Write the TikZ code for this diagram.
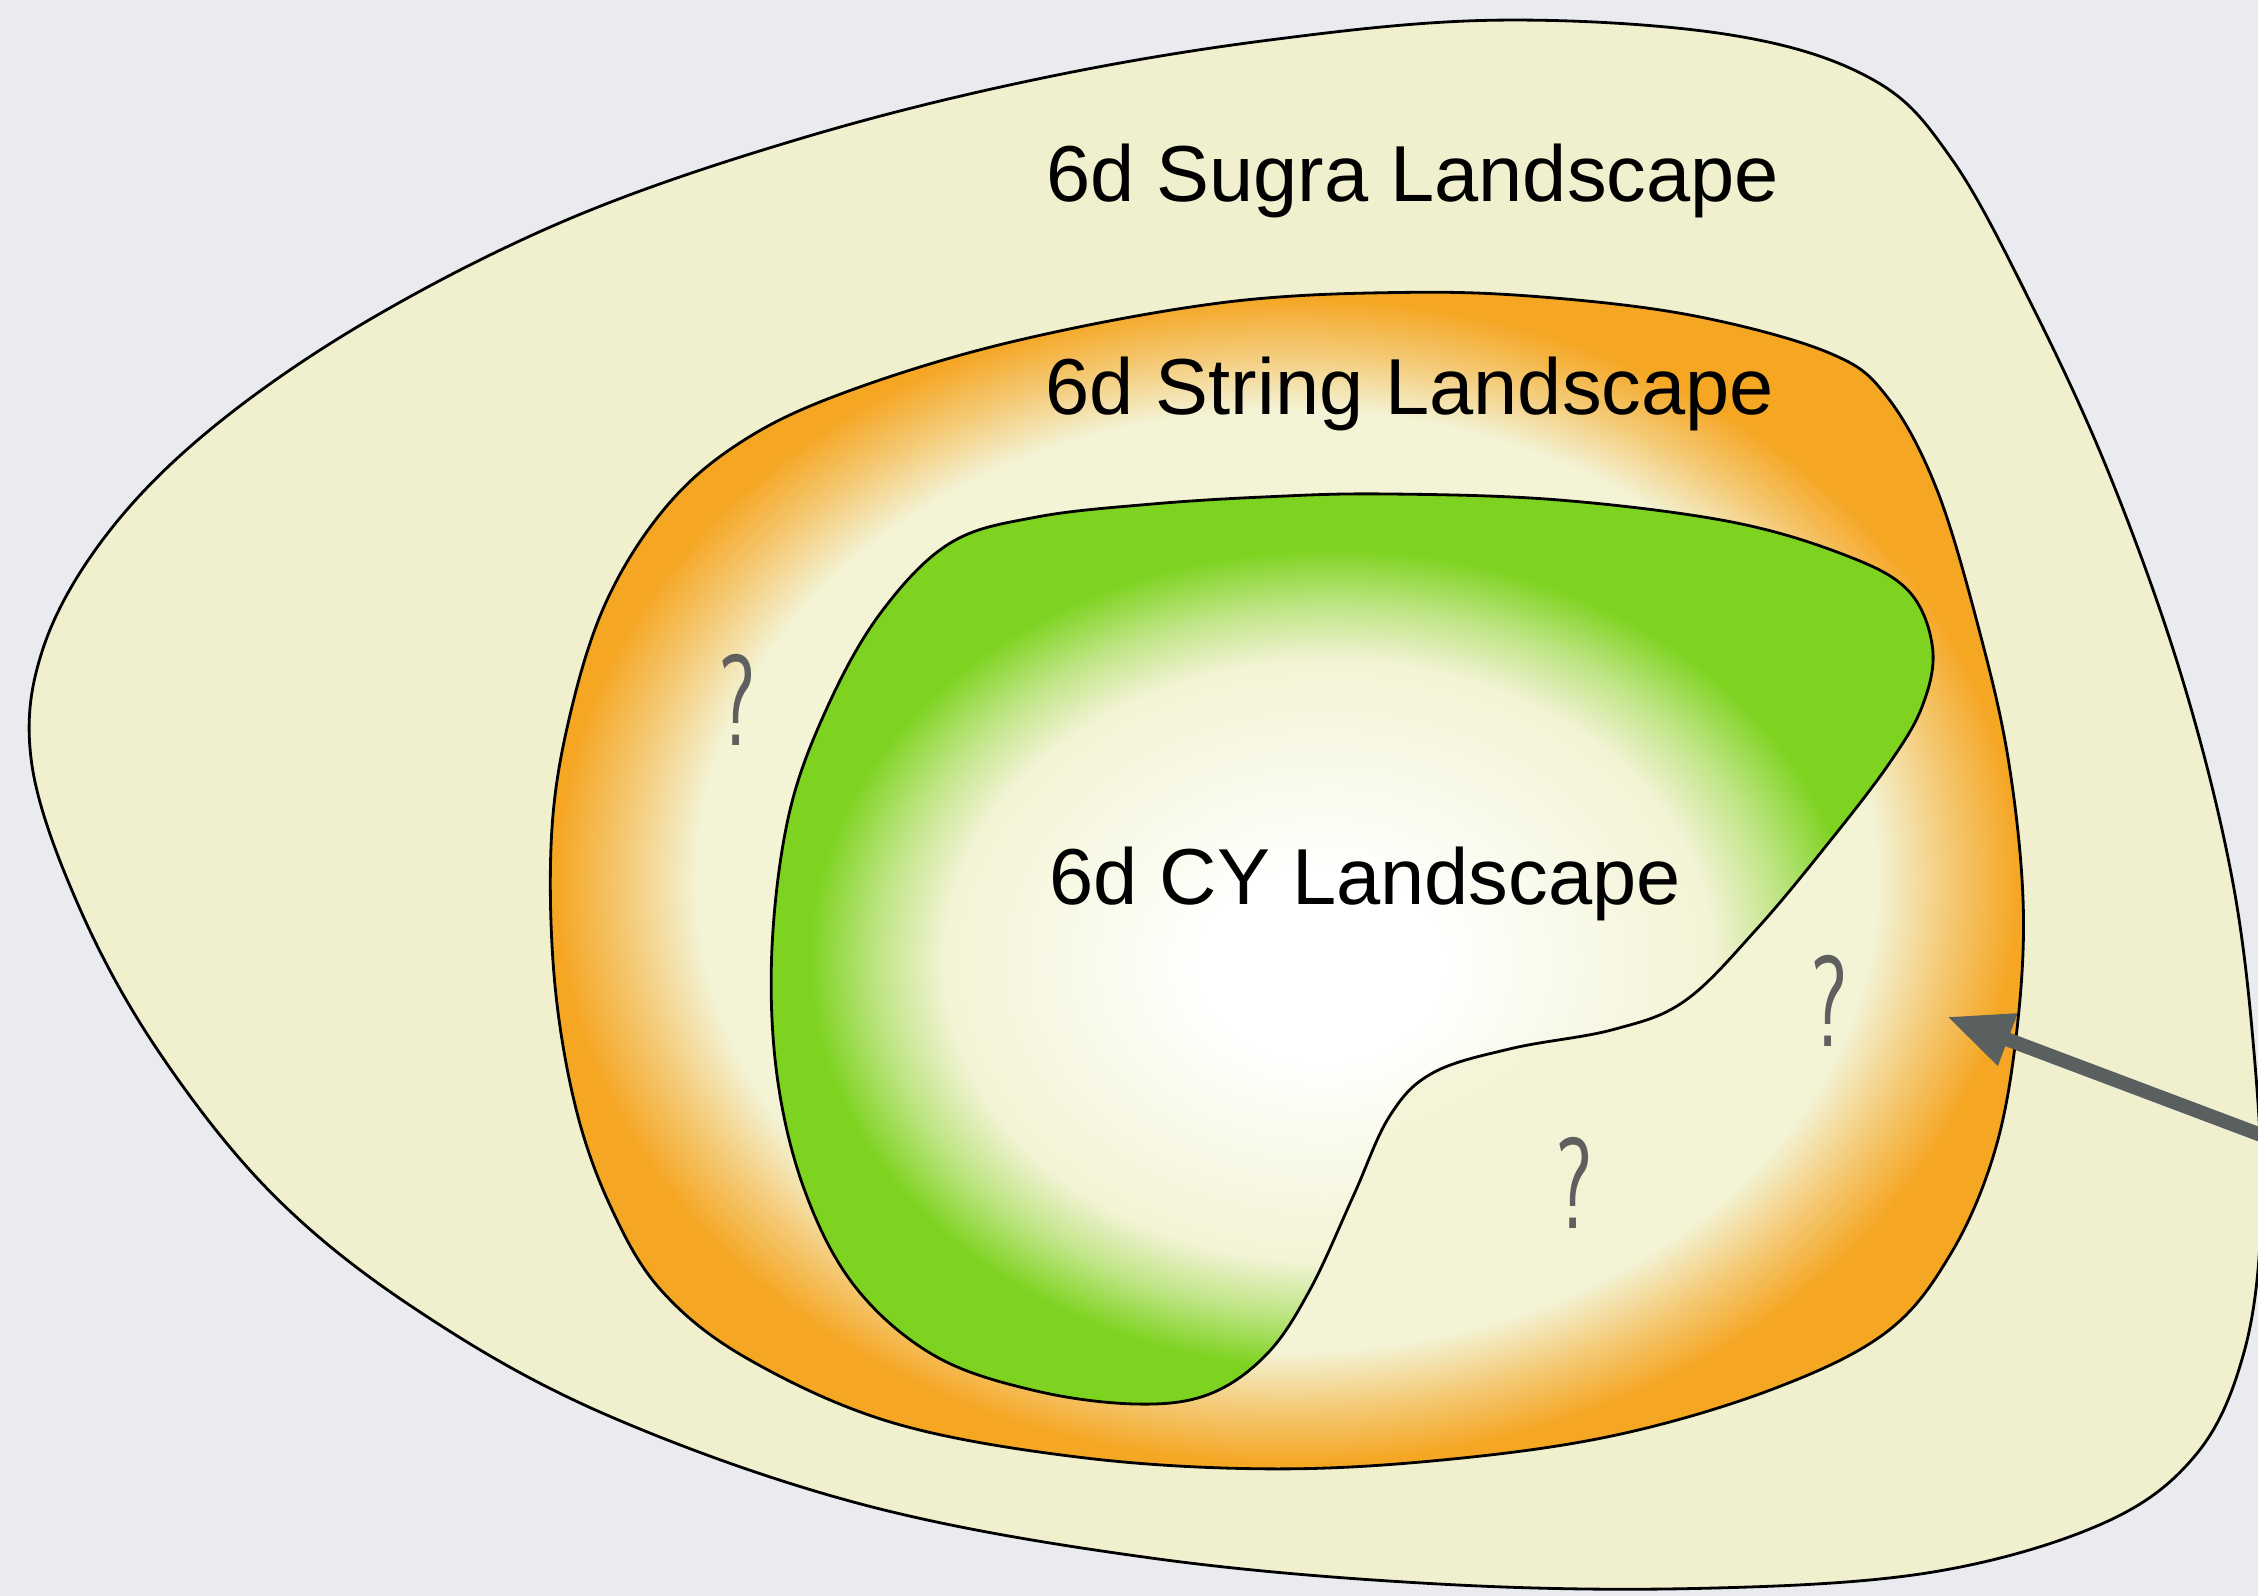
\documentclass[tikz,border=0pt]{standalone}
\usepackage{fontspec}
\usetikzlibrary{arrows.meta}
\newfontfamily\landfont{Liberation Sans}
\definecolor{cBg}{RGB}{233,235,239}
\definecolor{cSugra}{RGB}{240,240,207}
\definecolor{cPale}{RGB}{243,243,213}
\definecolor{cOrange}{RGB}{245,166,35}
\definecolor{cGreen}{RGB}{126,211,33}
\definecolor{cArrow}{RGB}{90,95,95}
\definecolor{cQ}{RGB}{95,95,95}
\pgfdeclareradialshading{stringshade}{\pgfpoint{0bp}{0bp}}{%
  color(0bp)=(cPale!40!white); color(12bp)=(cPale); color(20bp)=(cPale);
  color(22.5bp)=(cOrange!55!cPale); color(24.8bp)=(cOrange); color(50bp)=(cOrange)}
\pgfdeclareradialshading{cyshade}{\pgfpoint{-1.5bp}{-1bp}}{%
  color(0bp)=(white); color(5bp)=(white); color(10bp)=(cPale!45!white);
  color(16.5bp)=(cPale); color(19.5bp)=(cGreen!45!cPale); color(22.5bp)=(cGreen);
  color(50bp)=(cGreen)}
\tikzset{
  blob/.style={draw=black,line width=0.8pt},
  sugrablob/.style={blob,fill=cSugra},
  stringblob/.style={blob,shading=stringshade},
  cyblob/.style={blob,shading=cyshade},
  landlabel/.style={anchor=base,inner sep=0pt,
                    font=\landfont\fontsize{22.6}{27}\selectfont},
  qmark/.style={anchor=base,inner sep=0pt,text=cQ,xscale=0.65,transform shape,
                font=\sffamily\fontsize{37}{37}\selectfont},
  ptr/.style={-{Triangle[length=6.5mm,width=5.2mm]},line width=4pt,color=cArrow}
}
\begin{document}
\begin{tikzpicture}[x=0.0144cm,y=-0.0144cm]
  \useasboundingbox (0,0) rectangle (1568,1108);
  \clip (0,0) rectangle (1568,1108);
  \fill[cBg] (0,0) rectangle (1568,1108);

  % nested landscapes
  \draw[sugrablob] plot[smooth cycle,tension=0.6] coordinates {
    (1040,14) (1200,24) (1300,55) (1355,110) (1410,210) (1465,330)
    (1515,470) (1550,610) (1566,740) (1570,850) (1558,940) (1525,1010)
    (1460,1058) (1340,1092) (1180,1103) (1000,1100) (800,1082) (600,1045)
    (420,982) (290,910) (190,830) (110,730) (55,630) (22,530) (30,450)
    (75,370) (150,295) (260,220) (400,150) (560,95) (720,55) (880,28)};
  \draw[stringblob] plot[smooth cycle,tension=0.6] coordinates {
    (980,203) (1080,207) (1180,220) (1270,245) (1310,275) (1345,340)
    (1375,440) (1395,530) (1405,630) (1400,720) (1385,800) (1355,870)
    (1310,925) (1230,965) (1120,997) (1000,1014) (880,1020) (750,1012)
    (620,988) (520,944) (460,897) (425,840) (400,770) (385,680) (383,580)
    (395,500) (420,420) (460,355) (510,310) (580,275) (700,238) (850,210)};
  \draw[cyblob] plot[smooth cycle,tension=0.6] coordinates {
    (960,343) (1080,347) (1200,362) (1280,385) (1325,410) (1342,450)
    (1335,490) (1312,530) (1270,585) (1220,645) (1170,695) (1120,715)
    (1050,728) (995,745) (965,775) (940,830) (910,895) (880,940) (840,968)
    (790,975) (720,966) (650,942) (595,895) (560,830) (540,750) (536,660)
    (548,565) (575,490) (612,425) (660,377) (720,359) (800,350) (880,345)};

  \node[landlabel] (sugra) at (981,140) {6d Sugra Landscape};
  \node[landlabel] (string) at (979,288) {6d String Landscape};
  \node[landlabel] (cy) at (948,628) {6d CY Landscape};

  \node[qmark] (q1) at (512,518) {?};
  \node[qmark] (q2) at (1270,727) {?};
  \node[qmark] (q3) at (1093,853) {?};

  \coordinate (tail) at (1575,790);
  \coordinate (tip) at (1352,706);
  \draw[ptr] (tail) -- (tip);
\end{tikzpicture}
\end{document}
